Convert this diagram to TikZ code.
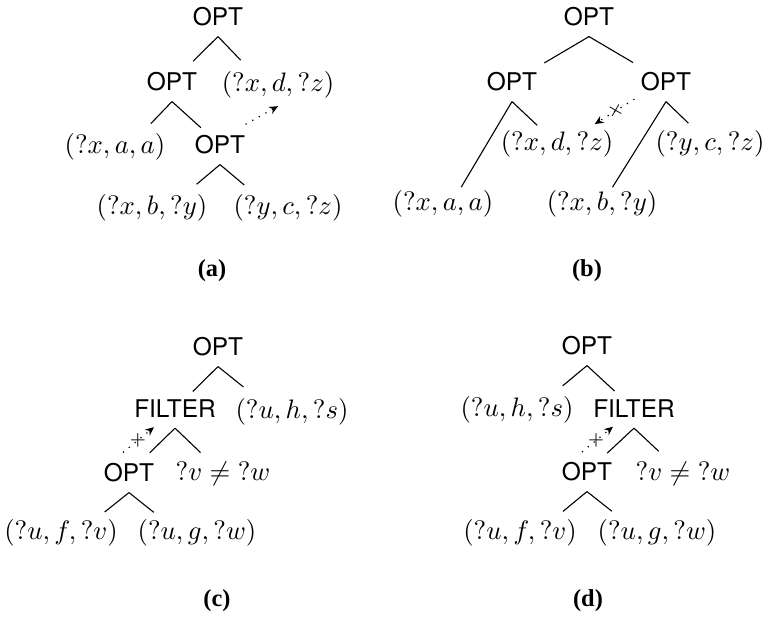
\documentclass[tikz,border=0pt]{standalone}
\usepackage{fontspec}
\setsansfont{TeX Gyre Heros}
\newfontfamily\capfont{Liberation Serif}
\usetikzlibrary{arrows.meta,calc}
\newcommand{\treeedge}[3][13.5pt]{\draw[edge] ($(#2.south)+(0,-4pt)$) coordinate (apx)
  -- ($(apx)!#1!(#3)$);}

\begin{document}
\begin{tikzpicture}[
  x=0.41pt, y=-0.41pt,
  op/.style={inner sep=0pt,font=\sffamily},
  tp/.style={inner sep=0pt,font=\fontsize{10.95}{13}\selectfont},
  subcap/.style={inner sep=0pt,font=\capfont\bfseries},
  edge/.style={line width=0.45pt},
  dotar/.style={line width=0.5pt,dash pattern=on 0.5pt off 2.6pt,
                -{Stealth[length=3.6pt,width=3.2pt]}},
  cross/.style={inner sep=0pt,font=\footnotesize}
]
\useasboundingbox (0,0) rectangle (765,618);

% (a)
\node[op] (ra) at (218,17) {OPT};
\node[op] (oa2) at (172,82) {OPT};
\node[tp] (xdza) at (278,85) {$(?x,d,?z)$};
\node[tp] (xaaa) at (115,147) {$(?x,a,a)$};
\node[op] (oa3) at (220,145) {OPT};
\node[tp] (xbya) at (152,208) {$(?x,b,?y)$};
\node[tp] (ycza) at (288,208) {$(?y,c,?z)$};
\node[subcap] (capa) at (212,271) {(a)};
\treeedge[14.4pt]{ra}{oa2} \treeedge[13.4pt]{ra}{xdza.south}
\treeedge[12.5pt]{oa2}{xaaa.south} \treeedge[16pt]{oa2}{oa3}
\treeedge[12.5pt]{oa3}{xbya.south} \treeedge[13pt]{oa3}{ycza.south}
\draw[dotar] ($(oa3.north east)+(0,4.5pt)$) -- ($(xdza.south)+(0,-3pt)$);

% (b)
\node[op] (rb) at (589,17) {OPT};
\node[op] (ob1) at (512,82) {OPT};
\node[op] (ob2) at (666,82) {OPT};
\node[tp] (xdzb) at (557,144) {$(?x,d,?z)$};
\node[tp] (yczb) at (710,144) {$(?y,c,?z)$};
\node[tp] (xaab) at (443,204) {$(?x,a,a)$};
\node[tp] (xbyb) at (602,204) {$(?x,b,?y)$};
\node[subcap] (capb) at (587,271) {(b)};
\treeedge[21.3pt]{rb}{ob1} \treeedge[21pt]{rb}{ob2}
\treeedge[40.8pt]{ob1}{xaab.south} \treeedge[14.2pt]{ob1}{xdzb}
\treeedge[41.4pt]{ob2}{xbyb} \treeedge[12.8pt]{ob2}{yczb}
\draw[dotar] ($(ob2.south west)+(-2.5pt,-3pt)$) --
  node[cross,pos=.47,rotate=15] (xb) {$\times$} ($(xdzb.north east)+(-7.8pt,2.5pt)$);

% (c)
\node[op] (rc) at (218,347) {OPT};
\node[op] (fc) at (175,409) {FILTER};
\node[tp] (uhsc) at (292,412) {$(?u,h,?s)$};
\node[op] (oc) at (129,473) {OPT};
\node[tp] (vwc) at (223,474) {$?v \neq {?w}$};
\node[tp] (ufvc) at (61,533) {$(?u,f,?v)$};
\node[tp] (ugwc) at (197,533) {$(?u,g,?w)$};
\node[subcap] (capc) at (217,601) {(c)};
\treeedge[14.5pt]{rc}{fc} \treeedge[13.4pt]{rc}{uhsc.south}
\treeedge[14.5pt]{fc}{oc} \treeedge[14.5pt]{fc}{vwc}
\treeedge[12.8pt]{oc}{ufvc.south} \treeedge[13pt]{oc}{ugwc.south}
\draw[dotar] ($(oc.north west)+(8pt,4.4pt)$) --
  node[cross,pos=.48,rotate=45] (xc) {$\times$} ($(fc.south)+(-8.6pt,-3.6pt)$);

% (d)
\node[op] (rd) at (587,346) {OPT};
\node[tp] (uhsd) at (517,410) {$(?u,h,?s)$};
\node[op] (fd) at (634,409) {FILTER};
\node[op] (od) at (587,472) {OPT};
\node[tp] (vwd) at (683,474) {$?v \neq {?w}$};
\node[tp] (ufvd) at (520,533) {$(?u,f,?v)$};
\node[tp] (ugwd) at (657,533) {$(?u,g,?w)$};
\node[subcap] (capd) at (588,601) {(d)};
\treeedge[13pt]{rd}{uhsd.south} \treeedge[15.4pt]{rd}{fd}
\treeedge[15pt]{fd}{od} \treeedge[13.9pt]{fd}{vwd}
\treeedge[12.8pt]{od}{ufvd.south} \treeedge[13pt]{od}{ugwd.south}
\draw[dotar] ($(od.north west)+(8.4pt,4.2pt)$) --
  node[cross,pos=.46,rotate=45] (xd) {$\times$} ($(fd.south)+(-8.6pt,-3.4pt)$);
\end{tikzpicture}
\end{document}
